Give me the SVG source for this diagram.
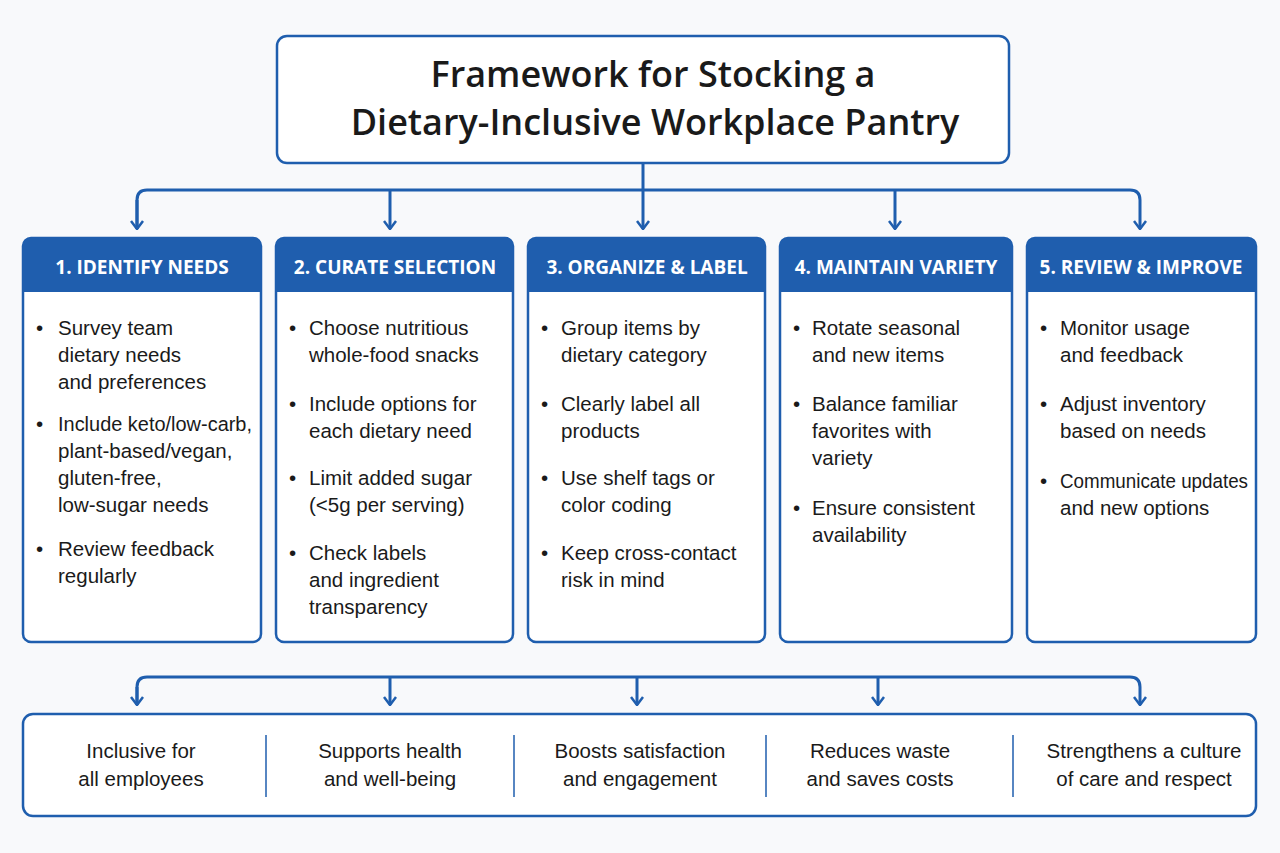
<svg xmlns="http://www.w3.org/2000/svg" width="1280" height="853" viewBox="0 0 1280 853">
<style>
.b{fill:#fff;stroke:#1f5eae;stroke-width:2.5}
.h{fill:#1f5eae}
.ht{fill:#fff;font:bold 19px "Open Sans","Liberation Sans",sans-serif;text-anchor:middle}
.t{fill:#1a1a1a;font:20.5px "Liberation Sans",sans-serif}
.c{fill:#1a1a1a;font:20.5px "Liberation Sans",sans-serif;text-anchor:middle}
.l{fill:none;stroke:#1f5eae;stroke-width:3}
</style>
<defs><marker id="a" viewBox="0 0 10 14" refX="9" refY="7" markerWidth="10" markerHeight="14" markerUnits="userSpaceOnUse" orient="auto"><path d="M1 1 L9 7 L1 13" fill="none" stroke="#1f5eae" stroke-width="2.5"/></marker></defs>
<rect width="1280" height="853" fill="#f8f9fb"/>
<g id="title"><rect x="277" y="36" width="732" height="127" rx="10" class="b"/>
<text x="653" y="87" text-anchor="middle" style="font:600 36px 'Open Sans','Liberation Sans',sans-serif;fill:#1a1a1a">Framework for Stocking a</text>
<text x="655" y="135" text-anchor="middle" style="font:600 36px 'Open Sans','Liberation Sans',sans-serif;fill:#1a1a1a">Dietary-Inclusive Workplace Pantry</text></g>
<g id="connectors">
<path class="l" d="M643 163 V190"/>
<path class="l" d="M137 229 V200 Q137 190 147 190 H1130 Q1140 190 1140 200 V229" marker-end="url(#a)"/>
<path class="l" d="M137 200 V229" marker-end="url(#a)"/>
<path class="l" d="M390 190 V229" marker-end="url(#a)"/>
<path class="l" d="M643 190 V229" marker-end="url(#a)"/>
<path class="l" d="M895 190 V229" marker-end="url(#a)"/>
<path class="l" d="M137 705 V687 Q137 677 147 677 H1130 Q1140 677 1140 687 V705" marker-end="url(#a)"/>
<path class="l" d="M137 687 V705" marker-end="url(#a)"/>
<path class="l" d="M390 677 V705" marker-end="url(#a)"/>
<path class="l" d="M637 677 V705" marker-end="url(#a)"/>
<path class="l" d="M878 677 V705" marker-end="url(#a)"/>
</g>
<g id="n1"><rect x="23" y="238" width="238" height="404" rx="8" class="b"/><path class="h" d="M23 292 V246 Q23 238 31 238 H253 Q261 238 261 246 V292 Z"/>
<text x="142" y="274" class="ht">1. IDENTIFY NEEDS</text>
<g class="t"><text x="36" y="335">•</text><text x="58" y="335">Survey team</text><text x="58" y="362">dietary needs</text><text x="58" y="389">and preferences</text>
<text x="36" y="431">•</text><text x="58" y="431" textLength="194" lengthAdjust="spacingAndGlyphs">Include keto/low-carb,</text><text x="58" y="458">plant-based/vegan,</text><text x="58" y="485">gluten-free,</text><text x="58" y="512">low-sugar needs</text>
<text x="36" y="556">•</text><text x="58" y="556">Review feedback</text><text x="58" y="583">regularly</text></g></g>
<g id="n2"><rect x="276" y="238" width="237" height="404" rx="8" class="b"/><path class="h" d="M276 292 V246 Q276 238 284 238 H505 Q513 238 513 246 V292 Z"/>
<text x="395" y="274" class="ht">2. CURATE SELECTION</text>
<g class="t"><text x="289" y="335">•</text><text x="309" y="335">Choose nutritious</text><text x="309" y="362">whole-food snacks</text>
<text x="289" y="411">•</text><text x="309" y="411">Include options for</text><text x="309" y="438">each dietary need</text>
<text x="289" y="485">•</text><text x="309" y="485">Limit added sugar</text><text x="309" y="512">(&lt;5g per serving)</text>
<text x="289" y="560">•</text><text x="309" y="560">Check labels</text><text x="309" y="587">and ingredient</text><text x="309" y="614">transparency</text></g></g>
<g id="n3"><rect x="528" y="238" width="237" height="404" rx="8" class="b"/><path class="h" d="M528 292 V246 Q528 238 536 238 H757 Q765 238 765 246 V292 Z"/>
<text x="647" y="274" class="ht">3. ORGANIZE &amp; LABEL</text>
<g class="t"><text x="541" y="335">•</text><text x="561" y="335">Group items by</text><text x="561" y="362">dietary category</text>
<text x="541" y="411">•</text><text x="561" y="411">Clearly label all</text><text x="561" y="438">products</text>
<text x="541" y="485">•</text><text x="561" y="485">Use shelf tags or</text><text x="561" y="512">color coding</text>
<text x="541" y="560">•</text><text x="561" y="560">Keep cross-contact</text><text x="561" y="587">risk in mind</text></g></g>
<g id="n4"><rect x="780" y="238" width="232" height="404" rx="8" class="b"/><path class="h" d="M780 292 V246 Q780 238 788 238 H1004 Q1012 238 1012 246 V292 Z"/>
<text x="896" y="274" class="ht">4. MAINTAIN VARIETY</text>
<g class="t"><text x="793" y="335">•</text><text x="812" y="335">Rotate seasonal</text><text x="812" y="362">and new items</text>
<text x="793" y="411">•</text><text x="812" y="411">Balance familiar</text><text x="812" y="438">favorites with</text><text x="812" y="465">variety</text>
<text x="793" y="515">•</text><text x="812" y="515">Ensure consistent</text><text x="812" y="542">availability</text></g></g>
<g id="n5"><rect x="1027" y="238" width="229" height="404" rx="8" class="b"/><path class="h" d="M1027 292 V246 Q1027 238 1035 238 H1248 Q1256 238 1256 246 V292 Z"/>
<text x="1141" y="274" class="ht">5. REVIEW &amp; IMPROVE</text>
<g class="t"><text x="1040" y="335">•</text><text x="1060" y="335">Monitor usage</text><text x="1060" y="362">and feedback</text>
<text x="1040" y="411">•</text><text x="1060" y="411">Adjust inventory</text><text x="1060" y="438">based on needs</text>
<text x="1040" y="488">•</text><text x="1060" y="488" textLength="188" lengthAdjust="spacingAndGlyphs">Communicate updates</text><text x="1060" y="515">and new options</text></g></g>
<g id="outcomes"><rect x="23" y="714" width="1233" height="102" rx="10" class="b"/>
<g stroke="#1f5eae" stroke-width="1.5"><line x1="266" y1="735" x2="266" y2="797"/><line x1="514" y1="735" x2="514" y2="797"/><line x1="766" y1="735" x2="766" y2="797"/><line x1="1013" y1="735" x2="1013" y2="797"/></g>
<g class="c"><text x="141" y="758">Inclusive for</text><text x="141" y="786">all employees</text>
<text x="390" y="758">Supports health</text><text x="390" y="786">and well-being</text>
<text x="640" y="758">Boosts satisfaction</text><text x="640" y="786">and engagement</text>
<text x="880" y="758">Reduces waste</text><text x="880" y="786">and saves costs</text>
<text x="1144" y="758">Strengthens a culture</text><text x="1144" y="786">of care and respect</text></g></g>
</svg>
